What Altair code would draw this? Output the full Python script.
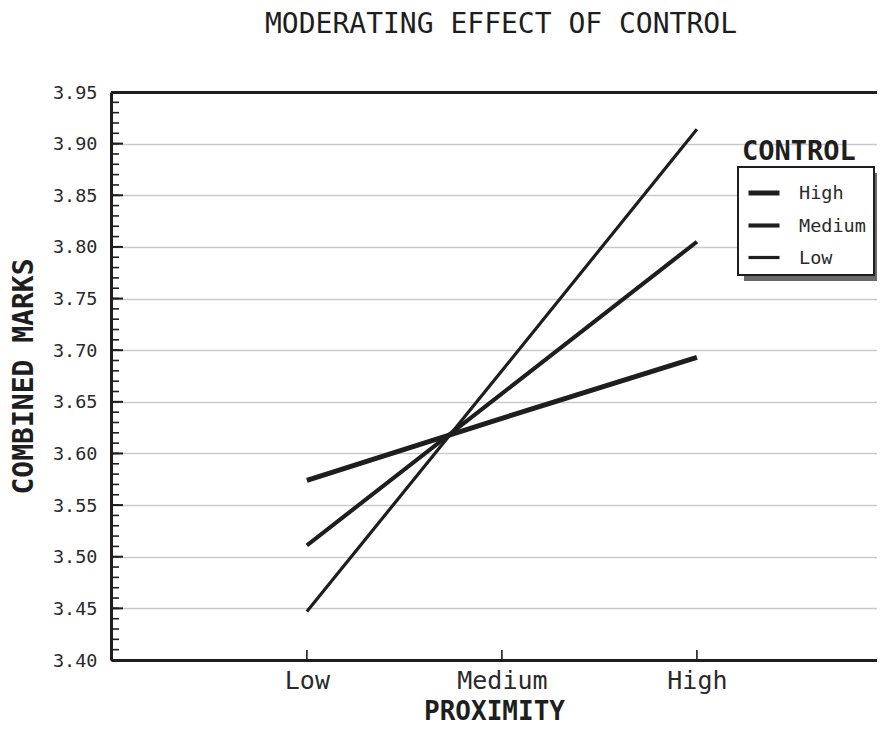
import altair as alt
import pandas as pd

# ---- data ----
proximity = ["Low", "Medium", "High"]
controls = ["High", "Medium", "Low"]
high_vals = [3.574, 3.634, 3.693]
medium_vals = [3.511, 3.658, 3.805]
low_vals = [3.447, 3.680, 3.914]

y_major = [round(3.40 + 0.05 * i, 2) for i in range(12)]
y_minor = [round(3.40 + 0.01 * i, 2) for i in range(56)]

chart_title = "MODERATING EFFECT OF CONTROL"
x_title = "PROXIMITY"
y_title = "COMBINED MARKS"
legend_title = "CONTROL"

rows = []
for c, vals in zip(controls, [high_vals, medium_vals, low_vals]):
    for p, v in zip(proximity, vals):
        rows.append({"proximity": p, "control": c, "marks": v})
df = pd.DataFrame(rows)

W, H = 766, 568
MONO = "DejaVu Sans Mono"
INK = "#1e1e1e"
LAB = "#2a2a2a"
LX, LY = 627, 75          # legend box position inside the plot
LW, LH = 135, 108         # approximate legend box size (for the drop shadow)

xscale = alt.Scale(type="point", domain=proximity, padding=0.964, align=0.521)
yscale = alt.Scale(domain=[3.40, 3.95], nice=False, zero=False)

lines = alt.Chart(df).mark_line(color=INK, strokeCap="butt").encode(
    x=alt.X("proximity:N", scale=xscale, sort=proximity,
            axis=alt.Axis(orient="bottom", title=x_title, ticks=False, domain=True,
                          domainColor=INK, domainWidth=3, grid=False,
                          labelFont=MONO, labelFontSize=25, labelColor=LAB,
                          labelPadding=8, labelAngle=0,
                          titleFont=MONO, titleFontSize=26, titleFontWeight="bold",
                          titleColor=INK, titlePadding=5)),
    y=alt.Y("marks:Q", scale=yscale,
            axis=alt.Axis(orient="left", values=y_major, format=".2f", title=y_title,
                          ticks=False, domain=True, domainColor=INK, domainWidth=3,
                          grid=True, gridColor="#c9c9c9", gridWidth=1.5,
                          labelFont=MONO, labelFontSize=18.5, labelColor=LAB,
                          labelPadding=14,
                          titleFont=MONO, titleFontSize=28, titleFontWeight="bold",
                          titleColor=INK, titlePadding=14)),
    strokeWidth=alt.StrokeWidth(
        "control:O", sort=controls,
        scale=alt.Scale(domain=controls, range=[5, 3.2, 1.2]),
        legend=alt.Legend(title=None, orient="none", legendX=LX, legendY=LY,
                          direction="vertical", padding=8, fillColor="white",
                          strokeColor=INK, symbolType="stroke", symbolSize=961,
                          symbolStrokeColor=INK, labelFont=MONO, labelFontSize=18.5,
                          labelColor=LAB, labelOffset=17, rowPadding=4.5)),
)

# drop shadow behind the legend box
shadow = alt.Chart(pd.DataFrame({"s": [1]})).mark_rect(color="#6a6a6a").encode(
    x=alt.value(LX + 6), x2=alt.value(LX + LW + 6),
    y=alt.value(LY + 6), y2=alt.value(LY + LH + 6),
)

top_frame = alt.Chart(df).mark_point(opacity=0, size=1).encode(
    x=alt.X("proximity:N", scale=xscale,
            axis=alt.Axis(orient="top", labels=False, ticks=False, domain=True,
                          domainColor=INK, domainWidth=3, title=None, grid=False)),
    y=alt.Y("marks:Q", scale=yscale, axis=None),
)

major_ticks = alt.Chart(pd.DataFrame({"v": y_major})).mark_rule(color=INK, strokeWidth=2).encode(
    y=alt.Y("v:Q", scale=yscale, axis=None),
    x=alt.value(0), x2=alt.value(12),
)
minor_ticks = alt.Chart(pd.DataFrame({"v": y_minor})).mark_rule(color=INK, strokeWidth=1.6).encode(
    y=alt.Y("v:Q", scale=yscale, axis=None),
    x=alt.value(0), x2=alt.value(8),
)
x_ticks = alt.Chart(pd.DataFrame({"proximity": proximity})).mark_rule(color=INK, strokeWidth=1.6).encode(
    x=alt.X("proximity:N", scale=xscale, axis=None),
    y=alt.value(H), y2=alt.value(H - 10),
)

legend_label = alt.Chart(pd.DataFrame({"t": [legend_title]})).mark_text(
    font=MONO, fontSize=27, fontWeight="bold", align="left", baseline="middle", color=INK
).encode(text="t:N", x=alt.value(631), y=alt.value(60))

chart = alt.layer(
    lines, top_frame, major_ticks, minor_ticks, x_ticks, shadow, legend_label
).resolve_axis(x="independent", y="independent").properties(
    width=W, height=H,
    title=alt.TitleParams(chart_title, font=MONO, fontSize=28, fontWeight="normal",
                          color=INK, anchor="middle", offset=44, dx=7),
    padding={"left": 103, "top": 84, "right": 0, "bottom": 64},
    autosize=alt.AutoSizeParams(type="none"),
    background="white",
).configure_view(stroke=None).configure_legend(strokeWidth=2)

chart.save("out.html", embed_options={"renderer": "svg", "actions": False})
